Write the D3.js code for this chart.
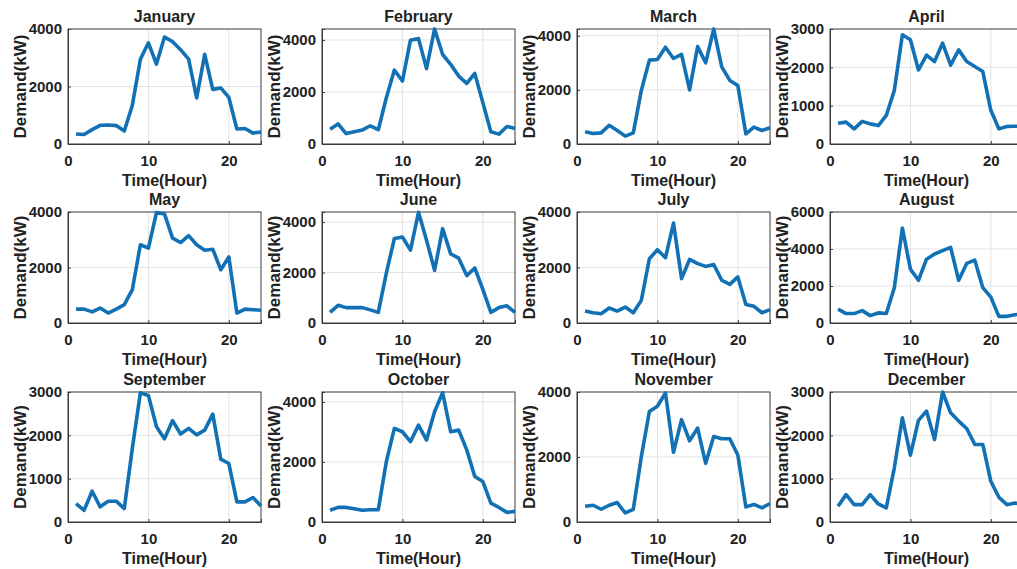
<!DOCTYPE html>
<html>
<head>
<meta charset="utf-8">
<script src="https://cdn.jsdelivr.net/npm/d3@7"></script>
<style>
  body { margin: 0; background: #ffffff; }
  svg text { font-family: "Liberation Sans", Arial, sans-serif; font-weight: bold; fill: #222222; }
</style>
</head>
<body>
<svg id="chart" width="1017" height="569"></svg>
<script>
// hourly demand (kW), hours 1..24
let hours = d3.range(1, 25);
let monthNames = ["January", "February", "March", "April", "May", "June",
                  "July", "August", "September", "October", "November", "December"];

let january   = [350, 330, 500, 650, 660, 640, 450, 1350, 2950, 3520, 2780, 3720, 3560, 3280, 2950, 1600, 3120, 1900, 1950, 1620, 520, 540, 380, 420];
let february  = [570, 770, 400, 470, 535, 700, 550, 1780, 2840, 2420, 3990, 4050, 2900, 4420, 3440, 3060, 2610, 2330, 2710, 1590, 470, 380, 675, 600];
let march     = [450, 390, 410, 690, 500, 290, 410, 1980, 3100, 3125, 3575, 3160, 3310, 2000, 3600, 3000, 4250, 2850, 2350, 2160, 375, 625, 500, 600];
let april     = [540, 570, 395, 590, 525, 480, 745, 1400, 2850, 2720, 1930, 2320, 2150, 2630, 2060, 2455, 2150, 2020, 1890, 880, 395, 455, 465, 460];
let may       = [500, 500, 400, 540, 360, 500, 660, 1200, 2820, 2700, 3980, 3930, 3060, 2900, 3150, 2820, 2620, 2660, 1920, 2380, 360, 500, 480, 460];
let june      = [420, 700, 610, 610, 610, 520, 420, 1980, 3350, 3410, 2890, 4390, 3280, 2085, 3740, 2740, 2570, 1880, 2180, 1330, 420, 610, 680, 420];
let july      = [430, 370, 335, 540, 430, 575, 370, 815, 2315, 2640, 2350, 3600, 1600, 2290, 2140, 2040, 2110, 1540, 1390, 1660, 670, 600, 370, 480];
let august    = [750, 510, 510, 670, 400, 545, 510, 1910, 5130, 2910, 2310, 3450, 3730, 3910, 4090, 2310, 3220, 3400, 1910, 1400, 360, 360, 450, 500];
let september = [425, 270, 710, 350, 480, 480, 310, 1700, 2980, 2920, 2200, 1920, 2340, 2030, 2160, 2010, 2120, 2490, 1450, 1350, 465, 465, 565, 370];
let october   = [390, 486, 486, 442, 390, 409, 409, 2010, 3116, 3006, 2674, 3227, 2730, 3670, 4310, 3006, 3060, 2400, 1514, 1348, 630, 486, 320, 354];
let november  = [485, 515, 392, 515, 598, 278, 392, 2010, 3400, 3560, 3970, 2145, 3150, 2500, 2890, 1805, 2630, 2560, 2560, 2060, 465, 540, 433, 570];
let december  = [362, 632, 400, 400, 632, 416, 324, 1250, 2405, 1542, 2344, 2560, 1904, 3000, 2520, 2328, 2158, 1790, 1790, 940, 570, 400, 440, 400];

let monthSeries = [january, february, march, april, may, june,
                   july, august, september, october, november, december];

// y limits and ticks for each panel
let yMax   = [4000, 4420, 4250, 3000, 4000, 4400, 4000, 6000, 3000, 4330, 4000, 3000];
let yTicks = [[0, 2000, 4000], [0, 2000, 4000], [0, 2000, 4000], [0, 1000, 2000, 3000],
              [0, 2000, 4000], [0, 2000, 4000], [0, 2000, 4000], [0, 2000, 4000, 6000],
              [0, 1000, 2000, 3000], [0, 2000, 4000], [0, 2000, 4000], [0, 1000, 2000, 3000]];
let xTicks = [0, 10, 20];

// panel layout
let colLeft = [68, 322, 577, 830];
let rowBox  = [[29, 144], [212, 323], [392, 522]];
let panelWidth = 193;
let lineColor = "#1271b5";

let svg = d3.select("#chart");
svg.append("rect").attr("width", 1017).attr("height", 569).attr("fill", "#ffffff");

monthSeries.forEach((values, i) => {
    let left = colLeft[i % 4];
    let top = rowBox[Math.floor(i / 4)][0];
    let bottom = rowBox[Math.floor(i / 4)][1];

    let x = d3.scaleLinear().domain([0, 24]).range([left, left + panelWidth]);
    let y = d3.scaleLinear().domain([0, yMax[i]]).range([bottom, top]);

    let g = svg.append("g");

    // grid
    g.selectAll(".vgrid").data(xTicks.slice(1)).join("line")
        .attr("x1", d => x(d)).attr("x2", d => x(d))
        .attr("y1", top).attr("y2", bottom)
        .attr("stroke", "#e3e3e3").attr("stroke-width", 1);
    g.selectAll(".hgrid").data(yTicks[i].filter(d => d > 0 && d < yMax[i])).join("line")
        .attr("x1", left).attr("x2", left + panelWidth)
        .attr("y1", d => y(d)).attr("y2", d => y(d))
        .attr("stroke", "#e3e3e3").attr("stroke-width", 1);

    // box
    g.append("rect")
        .attr("x", left).attr("y", top)
        .attr("width", panelWidth).attr("height", bottom - top)
        .attr("fill", "none").attr("stroke", "#3a3a3a").attr("stroke-width", 1);

    // axes with inward ticks
    let xAxis = d3.axisBottom(x).tickValues(xTicks).tickSize(-3).tickPadding(8).tickFormat(d3.format("d"));
    let yAxis = d3.axisLeft(y).tickValues(yTicks[i]).tickSize(-3).tickPadding(6).tickFormat(d3.format("d"));

    let xg = g.append("g").attr("transform", `translate(0,${bottom})`).call(xAxis);
    let yg = g.append("g").attr("transform", `translate(${left},0)`).call(yAxis);
    xg.select(".domain").attr("stroke", "#3a3a3a");
    yg.select(".domain").attr("stroke", "#3a3a3a");
    xg.selectAll(".tick line").attr("stroke", "#3a3a3a");
    yg.selectAll(".tick line").attr("stroke", "#3a3a3a");
    xg.selectAll("text").attr("font-size", 15).attr("fill", "#222222").attr("dy", "0.9em");
    yg.selectAll("text").attr("font-size", 15).attr("fill", "#222222");
    xg.attr("font-family", null);
    yg.attr("font-family", null);

    // data line
    let line = d3.line().x((d, j) => x(hours[j])).y(d => y(d));
    g.append("path").datum(values)
        .attr("d", line)
        .attr("fill", "none")
        .attr("stroke", lineColor)
        .attr("stroke-width", 3.6)
        .attr("stroke-linejoin", "round");

    // labels
    g.append("text")
        .attr("x", left + panelWidth / 2).attr("y", top - 7)
        .attr("text-anchor", "middle").attr("font-size", 16)
        .text(monthNames[i]);
    g.append("text")
        .attr("x", left + panelWidth / 2).attr("y", bottom + 42)
        .attr("text-anchor", "middle").attr("font-size", 16)
        .text("Time(Hour)");
    g.append("text")
        .attr("transform", `translate(${left - 42},${(top + bottom) / 2}) rotate(-90)`)
        .attr("text-anchor", "middle").attr("font-size", 17)
        .text("Demand(kW)");
});
</script>
</body>
</html>
